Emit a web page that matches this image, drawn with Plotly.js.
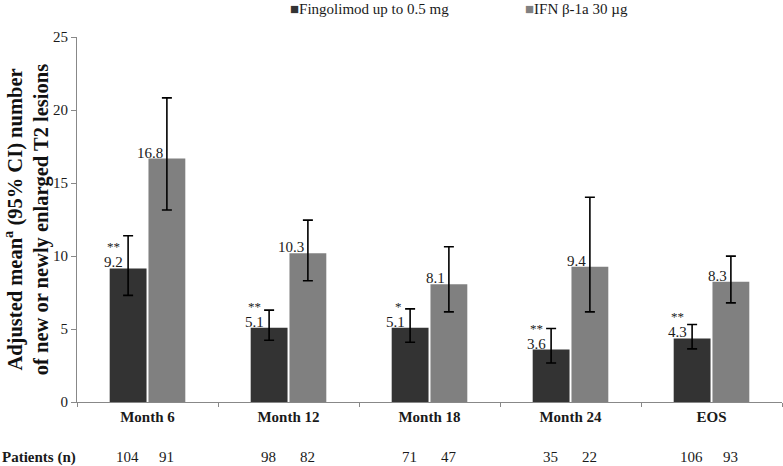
<!DOCTYPE html>
<html>
<head>
<meta charset="utf-8">
<script src="https://cdn.plot.ly/plotly-3.0.1.min.js"></script>
<style>
  html, body { margin: 0; padding: 0; background: #fff; }
  #chart { width: 783px; height: 466px; }
</style>
</head>
<body>
<div id="chart"></div>
<script>
// ---- data ----
const visits = ['Month 6', 'Month 12', 'Month 18', 'Month 24', 'EOS'];

const fingoMean = [9.15, 5.08, 5.08, 3.59, 4.35];
const fingoUpper = [11.39, 6.29, 6.38, 5.03, 5.31];
const fingoLower = [7.30, 4.23, 4.09, 2.67, 3.64];
const fingoLabel = ['9.2', '5.1', '5.1', '3.6', '4.3'];
const fingoStars = ['**', '**', '*', '**', '**'];
const fingoN = [104, 98, 71, 35, 106];

const ifnMean = [16.67, 10.18, 8.07, 9.26, 8.23];
const ifnUpper = [20.83, 12.46, 10.63, 14.02, 9.99];
const ifnLower = [13.15, 8.30, 6.17, 6.17, 6.79];
const ifnLabel = ['16.8', '10.3', '8.1', '9.4', '8.3'];
const ifnN = [91, 82, 47, 22, 93];

const seriesNames = ['Fingolimod up to 0.5 mg', 'IFN β-1a 30 µg'];
const seriesColors = ['#333333', '#808080'];

const serif = '"Liberation Serif", "Times New Roman", serif';
const ink = '#1a1a1a';

function errs(mean, up, lo) {
    return {
        type: 'data', symmetric: false,
        array: mean.map((m, i) => up[i] - m),
        arrayminus: mean.map((m, i) => m - lo[i]),
        color: '#000', thickness: 1.6, width: 5
    };
}

const traces = [
    {
        type: 'bar', name: seriesNames[0], x: visits, y: fingoMean,
        marker: { color: seriesColors[0] }, error_y: errs(fingoMean, fingoUpper, fingoLower),
        hoverinfo: 'none'
    },
    {
        type: 'bar', name: seriesNames[1], x: visits, y: ifnMean,
        marker: { color: seriesColors[1] }, error_y: errs(ifnMean, ifnUpper, ifnLower),
        hoverinfo: 'none'
    }
];

// offsets of the two bars from the category centre, in px
const darkOff = -20.5, greyOff = 19;
const annotations = [];

visits.forEach((v, i) => {
    // value labels, left of the error bar on top of each bar
    annotations.push({
        x: v, y: fingoMean[i], xref: 'x', yref: 'y', text: fingoLabel[i],
        xanchor: 'right', yanchor: 'bottom', xshift: darkOff - 2, yshift: -4,
        showarrow: false, font: { family: serif, size: 15, color: ink }
    });
    annotations.push({
        x: v, y: ifnMean[i], xref: 'x', yref: 'y', text: ifnLabel[i],
        xanchor: 'right', yanchor: 'bottom', xshift: greyOff - 2, yshift: -4,
        showarrow: false, font: { family: serif, size: 15, color: ink }
    });
    // significance stars
    annotations.push({
        x: v, y: fingoMean[i], xref: 'x', yref: 'y', text: fingoStars[i],
        xanchor: 'right', yanchor: 'bottom', xshift: darkOff - 5, yshift: 12,
        showarrow: false, font: { family: serif, size: 13, color: ink }
    });
    // patient counts under the axis
    annotations.push({
        x: v, y: -0.151, xref: 'x', yref: 'paper', text: String(fingoN[i]),
        xanchor: 'center', yanchor: 'middle', xshift: darkOff,
        showarrow: false, font: { family: serif, size: 15, color: ink }
    });
    annotations.push({
        x: v, y: -0.151, xref: 'x', yref: 'paper', text: String(ifnN[i]),
        xanchor: 'center', yanchor: 'middle', xshift: greyOff,
        showarrow: false, font: { family: serif, size: 15, color: ink }
    });
});

annotations.push({
    x: -0.109, y: -0.151, xref: 'paper', yref: 'paper', text: '<b>Patients (n)</b>',
    xanchor: 'left', yanchor: 'middle', showarrow: false,
    font: { family: serif, size: 15, color: ink }
});

// legend drawn as text: the built-in legend would not take the serif face
const legendX = [0.299, 0.632];
seriesNames.forEach((name, k) => {
    annotations.push({
        x: legendX[k], y: 1.077, xref: 'paper', yref: 'paper',
        text: '<span style="color:' + seriesColors[k] + '">■</span>' + name,
        xanchor: 'left', yanchor: 'middle', showarrow: false,
        font: { family: serif, size: 15, color: ink }
    });
});

const layout = {
    width: 783, height: 466,
    margin: { l: 77, r: 1, t: 37, b: 64, autoexpand: false },
    paper_bgcolor: '#fff', plot_bgcolor: '#fff',
    barmode: 'group', bargap: 0.45, bargroupgap: 0.05,
    font: { family: serif, color: ink },
    showlegend: false,
    xaxis: {
        type: 'category', showline: true, linecolor: '#888', linewidth: 1,
        ticks: 'outside', tickson: 'boundaries', ticklen: 4, tickcolor: '#888',
        tickfont: { family: serif, size: 15, color: ink, weight: 'bold' },
        ticklabelstandoff: 1,
        showgrid: false, zeroline: false, fixedrange: true
    },
    yaxis: {
        range: [0, 25], dtick: 5, showline: true, linecolor: '#888', linewidth: 1,
        ticks: 'outside', ticklen: 5, tickcolor: '#888',
        tickfont: { family: serif, size: 15, color: ink },
        showgrid: false, zeroline: false, fixedrange: true,
        title: {
            text: 'Adjusted mean<sup>a</sup> (95% CI) number<br>of new or newly enlarged T2 lesions',
            font: { family: serif, size: 20.5, color: '#111', weight: 'bold' },
            standoff: 13
        }
    },
    annotations: annotations
};

Plotly.newPlot('chart', traces, layout, { displayModeBar: false, staticPlot: true });
</script>
</body>
</html>
